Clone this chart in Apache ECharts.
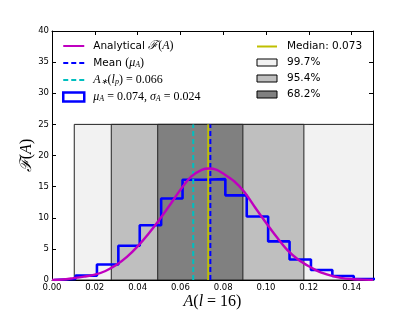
<!DOCTYPE html>
<html><head><meta charset="utf-8">
<script src="https://cdn.jsdelivr.net/npm/echarts@6/dist/echarts.min.js"></script>
<style>html,body{margin:0;padding:0;background:#fff}#c{width:415px;height:312px}</style>
</head><body><div id="c"></div>
<script>
// ---- data ----
const binEdges = [0.001,0.011,0.021,0.031,0.041,0.051,0.061,0.071,0.081,0.091,0.101,0.111,0.121,0.131,0.141,0.151];
const binCounts = [0.15,0.7,2.5,5.5,8.8,13.1,16.1,16.2,13.6,10.2,6.2,3.3,1.6,0.65,0.15];
const curveX = [0.000,0.005,0.010,0.015,0.020,0.025,0.030,0.035,0.040,0.045,0.050,0.055,0.060,0.065,0.070,0.0735,0.077,0.080,0.085,0.090,0.095,0.100,0.105,0.110,0.115,0.120,0.125,0.130,0.135,0.140,0.145,0.150];
const curveY = [0.02,0.08,0.3,0.55,0.85,1.45,2.4,3.7,5.4,7.4,9.6,12.0,14.5,16.6,17.7,17.9,17.7,17.1,15.9,14.1,11.6,9.2,6.9,4.8,3.3,2.2,1.3,0.75,0.35,0.15,0.06,0.02];
const spanNames = ['99.7%','95.4%','68.2%'];
const spanLow = [0.0104,0.0277,0.0494];
const spanHigh = [0.16,0.1177,0.0892];
const spanColors = ['#f2f2f2','#bfbfbf','#808080'];
const spanTop = 25;
const markerNames = ['Astar','Median','Mean'];
const markerValues = [0.066,0.073,0.074];
const markerColors = ['#00bfbf','#bfbf00','#0000ff'];
const markerTypes = [[5,3],'solid',[5,3]];
const xTickValues = [0,0.02,0.04,0.06,0.08,0.10,0.12,0.14];
const yTickValues = [0,5,10,15,20,25,30,35,40];

// ---- build ----
const histPts = [[binEdges[0],0]];
for (let i=0;i<binCounts.length;i++){ histPts.push([binEdges[i],binCounts[i]]); histPts.push([binEdges[i+1],binCounts[i]]); }
histPts.push([binEdges[binEdges.length-1],0]);
const curvePts = curveX.map((x,i)=>[x,curveY[i]]);

const series = [];
spanNames.forEach((nm,i)=>{
  series.push({
    name:nm, type:'custom', z:1, clip:true,
    itemStyle:{color:spanColors[i]},
    data:[[spanLow[i],spanHigh[i],spanTop]],
    encode:{x:[0,1],y:2},
    renderItem:(params,api)=>{
      const p0 = api.coord([api.value(0),api.value(2)]);
      const p1 = api.coord([api.value(1),0]);
      return {type:'rect', shape:{x:p0[0],y:p0[1],width:p1[0]-p0[0],height:p1[1]-p0[1]},
        style:{fill:spanColors[i],stroke:'#222',lineWidth:1}};
    }
  });
});
series.push({name:'hist',type:'line',z:2,data:histPts,symbol:'none',
  lineStyle:{color:'#0000ff',width:2.6},itemStyle:{color:'#0000ff'}});
markerNames.forEach((nm,i)=>{
  series.push({name:nm,type:'line',z:3,symbol:'none',data:[[markerValues[i],0],[markerValues[i],spanTop]],
    lineStyle:{color:markerColors[i],width:2,type:markerTypes[i]},itemStyle:{color:markerColors[i]}});
});
series.push({name:'Analytical',type:'line',z:4,data:curvePts,symbol:'none',smooth:0.3,
  lineStyle:{color:'#bf00bf',width:2.4},itemStyle:{color:'#bf00bf'}});

const serif = 'Liberation Serif';
const rich = {
  s:{fontFamily:'DejaVu Sans',fontSize:10.5,lineHeight:12,color:'#000'},
  m:{fontFamily:serif,fontSize:12,lineHeight:12,color:'#000'},
  i:{fontFamily:serif,fontStyle:'italic',fontSize:12,lineHeight:12,color:'#000'},
  c:{fontFamily:serif,fontStyle:'italic',fontSize:12,lineHeight:12,color:'#000'},
  sub:{fontFamily:serif,fontStyle:'italic',fontSize:8,lineHeight:8,verticalAlign:'bottom',color:'#000'}
};
const legendText = {
  'Analytical':'{s|Analytical }{c|ℱ}{m|(}{i|A}{m|)}',
  'Mean':'{s|Mean }{m|(}{i|μ}{sub|A}{m|)}',
  'Astar':'{i|A}{sub|∗}{m|(}{i|l}{sub|p}{m|) = 0.066}',
  'hist':'{i|μ}{sub|A}{m| = 0.074, }{i|σ}{sub|A}{m| = 0.024}',
  'Median':'{s|Median: 0.073}',
  '99.7%':'{s|99.7%}','95.4%':'{s|95.4%}','68.2%':'{s|68.2%}'
};
const hideSym = {color:'rgba(0,0,0,0)',borderWidth:0,opacity:0};

const axisCommon = {
  type:'value', axisLine:{show:true,onZero:false,lineStyle:{color:'#000',width:1}},
  axisTick:{show:true,inside:true,length:4,lineStyle:{color:'#000'}},
  splitLine:{show:false}, nameMoveOverlap:false
};
const option = {
  animation:false,
  grid:{left:52,right:42,top:31,bottom:32,outerBoundsMode:'none',containLabel:false},
  legend:[
    {left:62,top:40,padding:0,orient:'vertical',itemWidth:21,itemHeight:9,itemGap:5,
     data:[{name:'Analytical',itemStyle:hideSym},{name:'Mean',itemStyle:hideSym},{name:'Astar',itemStyle:hideSym},
           {name:'hist',icon:'rect',itemStyle:{color:'#fff',borderColor:'#0000ff',borderWidth:2.5}}],
     formatter:n=>legendText[n], textStyle:{padding:[0,0,0,4],rich:rich}},
    {left:256,top:41,padding:0,orient:'vertical',itemWidth:20,itemHeight:7,itemGap:5,
     data:[{name:'Median',itemStyle:hideSym}].concat(spanNames.map((n,i)=>({name:n,icon:'rect',itemStyle:{color:spanColors[i],borderColor:'#000',borderWidth:1}}))),
     formatter:n=>legendText[n], textStyle:{padding:[0,0,0,5],rich:rich}}
  ],
  xAxis:[
    Object.assign({},axisCommon,{min:0,max:0.15,interval:0.02,position:'bottom',
      axisLabel:{fontFamily:'DejaVu Sans',fontSize:8.5,color:'#000',margin:3,showMaxLabel:false,
        formatter:v=>xTickValues.some(t=>Math.abs(t-v)<1e-9)?v.toFixed(2):''},
      name:'{i|A}{m|(}{i|l}{m| = 16)}',nameLocation:'middle',nameGap:14,
      nameTextStyle:{rich:{i:{fontFamily:serif,fontStyle:'italic',fontSize:16,color:'#000'},m:{fontFamily:serif,fontSize:16,color:'#000'}}}}),
    Object.assign({},axisCommon,{min:0,max:0.15,interval:0.02,position:'top',axisLabel:{show:false}})
  ],
  yAxis:[
    Object.assign({},axisCommon,{min:0,max:40,interval:5,position:'left',
      axisLabel:{fontFamily:'DejaVu Sans',fontSize:8.5,color:'#000',margin:3,
        formatter:v=>yTickValues.includes(v)?String(v):''},
      name:'{c|ℱ}{m|(}{i|A}{m|)}',nameLocation:'middle',nameGap:17,nameRotate:90,
      nameTextStyle:{rich:{c:{fontFamily:serif,fontStyle:'italic',fontSize:16,color:'#000'},i:{fontFamily:serif,fontStyle:'italic',fontSize:16,color:'#000'},m:{fontFamily:serif,fontSize:16,color:'#000'}}}}),
    Object.assign({},axisCommon,{min:0,max:40,interval:5,position:'right',axisLabel:{show:false}})
  ],
  series:series
};
const chart = echarts.init(document.getElementById('c'),null,{renderer:'canvas'});
chart.setOption(option);
</script></body></html>
